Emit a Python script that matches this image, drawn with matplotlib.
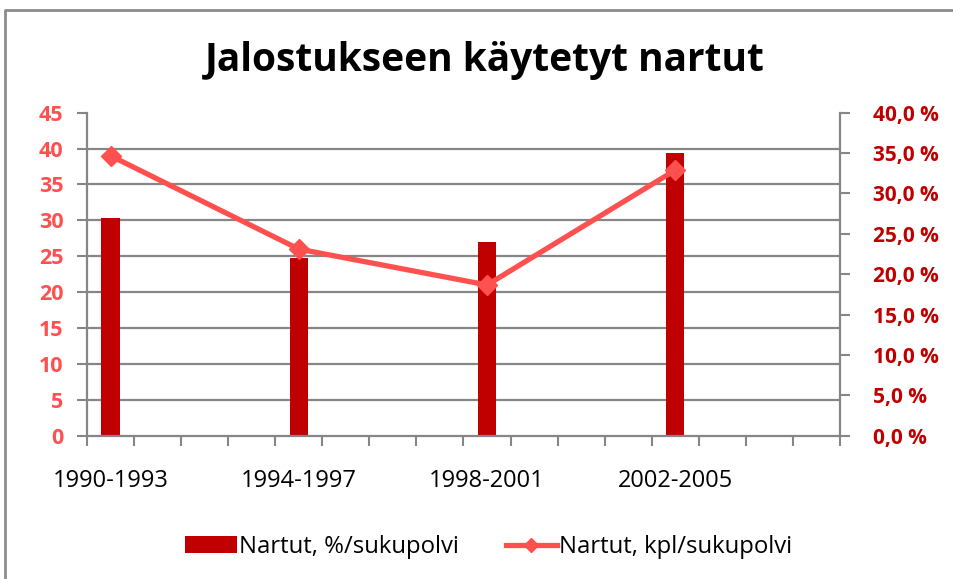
import numpy as np
import matplotlib
matplotlib.use("Agg")
import matplotlib.pyplot as plt
from matplotlib.lines import Line2D

plt.rcParams["font.family"] = ["Open Sans", "DejaVu Sans"]

# data
periods = ["1990-1993", "1994-1997", "1998-2001", "2002-2005"]
pct_per_gen = [27.0, 22.0, 24.0, 35.0]   # Nartut, %/sukupolvi (right axis)
kpl_per_gen = [39, 26, 21, 37]           # Nartut, kpl/sukupolvi (left axis)
slots_per_period = 4                     # axis has 16 category slots
left_ticks = np.arange(0, 46, 5)
right_ticks = np.arange(0, 41, 5)

bar_col = "#C00000"
line_col = "#FF5050"
grid_col = "#868686"

x = np.arange(len(periods)) * slots_per_period
n_slots = len(periods) * slots_per_period

fig = plt.figure(figsize=(9.54, 5.79), dpi=100)
W, H = 954, 579
ax = fig.add_axes([87 / W, 1 - 435.7 / H, (840 - 87) / W, 323 / H])
ax2 = ax.twinx()
ax.set_zorder(2)
ax2.set_zorder(1)
ax.patch.set_visible(False)

# bars on secondary (percent) axis
ax2.bar(x, pct_per_gen, width=0.39, color=bar_col, zorder=3,
        label="Nartut, %/sukupolvi")
ax2.set_ylim(0, 40)
ax2.set_yticks(right_ticks, [f"{v:.1f}".replace(".", ",") + " %" for v in right_ticks],
               fontweight="bold")

# line on primary axis
ax.plot(x, kpl_per_gen, color=line_col, lw=3.8, marker="D", ms=10,
        label="Nartut, kpl/sukupolvi", zorder=4, clip_on=False)
ax.set_ylim(0, 45)
ax.set_yticks(left_ticks, [str(v) for v in left_ticks], fontweight="bold")

# horizontal gridlines follow primary axis ticks, drawn behind the bars
ax2.set_yticks(left_ticks[1:] * 40 / 45, minor=True)
ax2.grid(True, which="minor", axis="y", color=grid_col, lw=1.6, zorder=0)
ax2.tick_params(axis="y", which="minor", length=0)

ax.set_xlim(-0.5, n_slots - 0.5)
ax.set_xticks(np.arange(-0.5, n_slots, 1))
ax.set_xticklabels([])
ax.set_xticks(x, minor=True)
ax.set_xticklabels(periods, minor=True)
ax.tick_params(axis="x", which="major", length=7, width=1.5, color=grid_col, direction="out")
ax.tick_params(axis="x", which="minor", length=0, pad=24, labelsize=17)

ax.tick_params(axis="y", length=7, width=1.5, color=grid_col, pad=10,
               labelsize=15.5, labelcolor=line_col)
ax2.tick_params(axis="y", which="major", length=7, width=1.5, color=grid_col, pad=17,
                labelsize=15, labelcolor=bar_col)

for a in (ax, ax2):
    a.spines["top"].set_visible(False)
    for s in ("left", "right", "bottom"):
        a.spines[s].set_color(grid_col)
        a.spines[s].set_linewidth(1.6)
ax.spines["right"].set_visible(False)
ax2.spines["left"].set_visible(False)
ax2.spines["bottom"].set_visible(False)

fig.text(485 / W, 1 - 61 / H, "Jalostukseen käytetyt nartut", ha="center", va="center",
         fontsize=28, fontweight="bold")

h1, l1 = ax2.get_legend_handles_labels()
h2, l2 = ax.get_legend_handles_labels()
fig.legend(h1 + h2, l1 + l2, loc="center", bbox_to_anchor=(489 / W, 1 - 547 / H), ncol=2,
           frameon=False, fontsize=17.2, handlelength=2.15, handletextpad=0.1,
           columnspacing=1.95, markerscale=0.7)

# chart border
fig.add_artist(Line2D([5 / W, 5 / W, 1], [0, 1 - 10 / H, 1 - 10 / H],
                      transform=fig.transFigure, color="#8c8c8c", lw=2))

fig.savefig("out.png", dpi=100)
